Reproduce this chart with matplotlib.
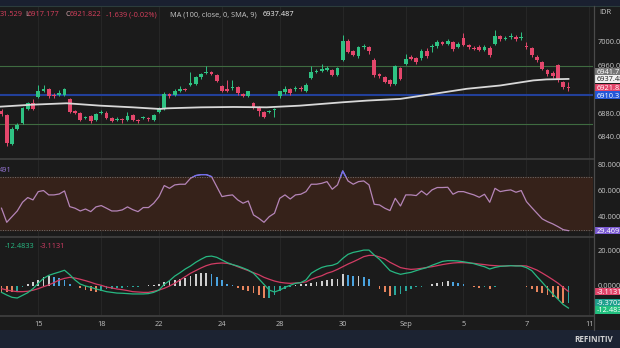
import matplotlib
matplotlib.use("Agg")
import matplotlib.pyplot as plt
from matplotlib.patches import Rectangle
from matplotlib.lines import Line2D

plt.rcParams['font.family'] = ['Open Sans', 'DejaVu Sans']

W, H = 620, 348
FS = 5.3

# ---- price candles (bar index 0..108) ----
opens = [6884, 6877.5, 6828, 6853, 6863, 6887, 6896.5, 6907, 6917, 6920,
         6911, 6911, 6911, 6903, 6883.5, 6880, 6872, 6875, 6868.5, 6880,
         6881, 6872, 6868, 6870, 6868, 6877, 6868, 6872, 6872, 6868.5,
         6882.5, 6888.5, 6912.5, 6911, 6918, 6920.3, 6928, 6929.5, 6940.5, 6948,
         6949, 6944.5, 6925, 6921, 6921.5, 6923.7, 6912.4, 6909.6, 6896.5, 6890,
         6882.5, 6882.5, 6886, 6908, 6915, 6921, 6920, 6922.5, 6918, 6939.5,
         6949, 6951.4, 6952, 6952, 6944.6, 6970, 7001.7, 6984, 6975.7, 6990.4,
         6990.4, 6970, 6946.3, 6940.7, 6935, 6929.4, 6956.5, 6963.3, 6974.6, 6972.3,
         6972.9, 6984.2, 6991, 6992.7, 7000, 6996, 7000, 6991.5, 7005.7, 6994.4,
         6989, 6991.5, 6985.9, 6990, 6996, 7009.6, 7005, 7007.9, 7008.5, 7005.7,
         6992.7, 6988.7, 6974.6, 6966.1, 6952, 6947.5, 6960.4, 6932.2, 6923.461]
highs = [6887, 6879, 6856, 6863, 6890, 6899, 6904, 6926.5, 6926.5, 6922,
         6914, 6919, 6922, 6906, 6886, 6882, 6876, 6877, 6880, 6886,
         6883, 6874, 6873, 6872, 6882, 6879, 6870, 6876, 6874, 6879,
         6890, 6915, 6914, 6920, 6926, 6923, 6949, 6943, 6948, 6958.8,
         6951, 6946, 6927, 6935, 6935, 6926, 6914, 6918, 6899, 6892,
         6884, 6886, 6889, 6918, 6925, 6923, 6926, 6925, 6930, 6958.8,
         6954, 6962, 6960, 6954, 6958, 7011, 7004, 6986, 6993, 6997,
         6992, 6972, 6948, 6942, 6937, 6961, 6958, 6980, 6977, 6974,
         6987, 6990, 6997, 7003, 7002, 7004, 7002, 6999, 7014, 6996,
         6992, 6994, 6994, 6992, 7019, 7012, 7009, 7015, 7011, 7017,
         7000, 6991, 6977, 6968, 6954, 6950, 6962, 6934, 6931.529]
lows = [6876, 6825, 6826, 6851, 6861, 6885, 6885, 6905, 6915, 6906,
        6906, 6909, 6909, 6880, 6879, 6867, 6870, 6864, 6866, 6878,
        6870, 6865, 6866, 6864, 6866, 6866, 6864, 6870, 6866, 6866,
        6880, 6886, 6906, 6909, 6916, 6917, 6926, 6927, 6938, 6946,
        6944, 6932, 6916, 6916, 6919, 6911, 6907, 6907, 6887, 6875,
        6872, 6880, 6874, 6906, 6913, 6911, 6918, 6917, 6916, 6937,
        6947, 6949, 6950, 6942, 6942, 6967, 6981, 6976, 6972, 6988,
        6980, 6941, 6939, 6930, 6925, 6927, 6935, 6961, 6969, 6963,
        6970, 6973, 6983, 6990, 6994, 6994, 6985, 6989, 6992, 6988,
        6986, 6984, 6984, 6975, 6994, 7002, 7003, 7005, 7002, 7003,
        6988, 6975, 6966, 6952, 6943, 6939, 6933, 6921, 6917.177]
closes = [6878.5, 6830.5, 6853, 6860, 6888, 6896.5, 6887, 6917, 6920, 6908.5,
          6908.5, 6913.5, 6920, 6882.5, 6881, 6869, 6874, 6867, 6878.5, 6882.5,
          6872, 6867, 6871, 6868, 6874.5, 6868.5, 6866, 6874, 6869.5, 6877,
          6888.5, 6912.5, 6908.5, 6918, 6920, 6919.2, 6930.5, 6940.5, 6946, 6949.7,
          6946.3, 6934, 6918, 6918, 6923.7, 6913.5, 6909.6, 6916.4, 6890, 6883,
          6874, 6884, 6887, 6916.4, 6921, 6913.5, 6922.6, 6919.8, 6926.5, 6949,
          6951.4, 6953.7, 6956.5, 6944.6, 6956.5, 7001.7, 6983, 6978.5, 6990.4, 6992.7,
          6984.2, 6943.5, 6941.8, 6932.2, 6928.2, 6958.8, 6937.9, 6971.2, 6971.2, 6965.5,
          6984.2, 6975.7, 6992, 7000, 6996, 7001.7, 6987, 6996, 6994.4, 6990.4,
          6988, 6985.9, 6991.5, 6977.4, 7010.2, 7004, 7006, 7009, 7004, 7008.5,
          6990.4, 6977.4, 6968.9, 6954.8, 6945.2, 6941.8, 6935, 6923.7, 6921.822]

# MA(100) read at sampled bars
ma_idx = [-0.3, 6, 12.4, 18.8, 25, 30.2, 31.5, 38, 44.2, 50.5,
          56.8, 65, 69.6, 76, 82.3, 88.6, 95, 101.3, 103.8, 108]
ma_val = [6890.9, 6894.3, 6896.6, 6892.6, 6889.8, 6887, 6888.1, 6889.8, 6890.4, 6889.8,
          6892.6, 6898.3, 6901.1, 6904, 6912.4, 6920.9, 6926.5, 6935, 6936.7, 6937.487]

rsi = [46.5, 35.8, 40.1, 44.4, 51.0, 54.6, 52.8, 59.1, 59.9, 56.6,
       56.6, 57.3, 59.6, 47.7, 46.5, 44.4, 45.9, 43.9, 47.5, 48.5,
       46.5, 44.4, 44.4, 45.2, 47.5, 45.4, 43.9, 47.0, 47.0, 50.3,
       55.3, 63.7, 61.6, 64.2, 64.7, 64.7, 69.2, 71.3, 72.0, 72.0,
       70.5, 62.9, 55.3, 56.1, 56.6, 52.8, 50.3, 52.0, 41.4, 38.9,
       35.8, 40.1, 42.7, 54.0, 56.6, 53.5, 56.6, 57.1, 59.1, 64.7,
       64.7, 65.4, 66.7, 60.9, 64.2, 74.8, 67.2, 64.7, 66.7, 67.2,
       64.2, 49.5, 49.0, 46.5, 44.7, 54.0, 48.2, 56.6, 56.6, 56.1,
       59.6, 56.6, 60.4, 62.2, 62.2, 62.4, 57.1, 59.1, 59.1, 57.8,
       56.6, 54.8, 57.1, 51.0, 61.6, 59.1, 59.9, 60.4, 58.6, 59.9,
       51.5, 47.0, 42.7, 38.4, 36.3, 34.6, 32.5, 30.2, 29.469]

macd = [-3.6, -5.1, -6.4, -6.8, -5.3, -3.8, -1.5, 1.5, 4.3, 6.0,
        7.0, 7.9, 8.9, 6.4, 3.4, 1.1, 0.0, -0.75, -1.7, -2.4,
        -3.2, -3.6, -4.0, -4.1, -4.3, -4.5, -4.5, -4.5, -4.3, -3.6,
        -2.3, 0.9, 3.0, 5.6, 7.5, 9.6, 11.3, 13.4, 15.1, 16.6,
        16.9, 16.2, 14.7, 13.2, 12.1, 11.3, 10.2, 9.0, 7.2, 4.1,
        0.9, -2.3, -3.4, -2.3, -0.75, 0.4, 1.5, 1.9, 3.4, 7.2,
        9.0, 10.5, 11.3, 11.7, 12.8, 15.6, 17.9, 19.0, 19.6, 20.3,
        20.3, 17.5, 15.1, 11.9, 8.7, 7.5, 6.6, 7.2, 7.7, 8.7,
        9.6, 10.4, 11.7, 12.8, 13.9, 14.3, 14.3, 14.1, 13.7, 13.2,
        12.6, 11.7, 10.9, 9.6, 10.5, 11.1, 11.3, 11.5, 11.3, 11.3,
        10.4, 8.7, 5.3, 2.1, -1.3, -4.5, -7.5, -10.5, -12.4833]
signal = [-1.5, -2.3, -2.8, -3.2, -3.2, -3.0, -2.4, -1.5, -0.4, 0.6,
          1.9, 3.4, 4.3, 4.9, 4.5, 3.8, 3.0, 2.1, 1.1, 0.4,
          -0.6, -1.1, -1.7, -2.1, -2.6, -3.2, -3.4, -3.6, -3.6, -3.0,
          -2.3, -1.3, 0.0, 1.5, 3.4, 5.3, 7.2, 8.7, 10.2, 11.5,
          12.4, 12.8, 13.0, 12.8, 12.1, 10.9, 9.8, 8.7, 7.5, 6.4,
          4.9, 3.8, 2.8, 2.1, 1.7, 1.5, 1.7, 1.9, 2.3, 3.8,
          4.9, 5.8, 7.2, 8.1, 9.4, 10.9, 12.4, 13.7, 15.1, 16.6,
          17.3, 17.3, 16.4, 15.3, 13.4, 11.9, 10.4, 9.8, 9.4, 9.6,
          10.0, 10.5, 10.9, 11.5, 12.1, 12.6, 13.0, 13.2, 13.2, 13.0,
          12.8, 12.4, 12.1, 11.7, 11.5, 11.3, 11.3, 11.5, 11.5, 11.5,
          11.3, 10.2, 9.0, 7.3, 5.5, 3.6, 1.6, -0.8, -3.1131]
hist = [-3.2, -3.2, -3.6, -3.0, -0.75, 0.9, 2.3, 3.6, 4.9, 5.6,
        5.3, 4.3, 3.4, 0.9, -0.2, -1.3, -2.3, -3.0, -3.2, -2.6,
        -1.9, -1.5, -1.1, -0.9, -0.75, -0.6, -0.4, 0.2, 0.4, 0.75,
        1.3, 2.3, 3.0, 3.6, 4.1, 4.7, 5.6, 6.6, 7.3, 7.5,
        6.8, 5.3, 3.4, 1.1, 0.4, -1.1, -2.1, -2.8, -4.0, -5.1,
        -6.8, -6.6, -4.9, -3.0, -1.5, -0.4, 0.6, 0.9, 1.1, 1.9,
        2.4, 3.0, 3.6, 3.8, 4.1, 6.8, 6.2, 5.6, 5.6, 5.3,
        3.8, 0.0, -1.9, -3.4, -5.6, -5.1, -4.5, -2.6, -1.5, -0.75,
        -0.4, -0.2, 0.9, 1.9, 2.4, 2.6, 2.1, 1.5, 0.9, 0.2,
        -0.75, -1.1, -0.75, -1.9, -0.75, -0.2, 0.1, 0.2, 0.0, 0.2,
        -0.75, -1.9, -3.2, -4.1, -5.3, -6.4, -7.5, -9.6, -9.3702]

tick_idx = [7, 19, 30, 42, 53, 65, 77, 88, 100, 112]
tick_lab = ['15', '18', '22', '24', '28', '30', 'Sep', '5', '7', '11']
price_ticks = [6840, 6880, 6960, 7000]   # 6920 sits under the close tag

BG = '#1b1b1b'
GREEN = '#2fc283'
RED = '#e4476c'
idx = list(range(len(closes)))

fig = plt.figure(figsize=(W / 100, H / 100), dpi=100, facecolor=BG)


def axes_px(top, bottom):
    return fig.add_axes([0, 1 - bottom / H, 593 / W, (bottom - top) / H], facecolor=BG)


ax1 = axes_px(6, 159)
ax2 = axes_px(160, 236)
ax3 = axes_px(237, 315)

for ax in (ax1, ax2, ax3):
    ax.set_xlim(-0.286, 112.67)
    for s in ax.spines.values():
        s.set_visible(False)
    for t in tick_idx:
        ax.axvline(t, color='#262626', lw=0.8, zorder=0)
    ax.yaxis.tick_right()
    ax.tick_params(axis='y', length=0, pad=3.2, labelsize=FS, labelcolor='#c8c8c8')
    ax.tick_params(axis='x', length=0)
    ax.set_xticks(tick_idx)
    ax.set_xticklabels([])

# ---- main price panel ----
ax1.set_ylim(6803, 7060)
ax1.set_yticks(price_ticks)
ax1.set_yticklabels(['%.3f' % v for v in price_ticks])
ax1.axhline(6960, color='#3f6b40', lw=0.8, zorder=1)
ax1.axhline(6862, color='#3f6b40', lw=0.8, zorder=1)
ax1.axhline(6910.3, color='#22409a', lw=1.5, zorder=1)

cols = [GREEN if c >= o else RED for o, c in zip(opens, closes)]
ax1.vlines(idx, lows, highs, colors=cols, lw=0.7, zorder=3)
ax1.bar(idx, [max(abs(c - o), 1.0) for o, c in zip(opens, closes)],
        bottom=[min(o, c) for o, c in zip(opens, closes)],
        width=0.7, color=cols, zorder=4)
ax1.plot(ma_idx, ma_val, color='#d8d8d8', lw=1.3, zorder=5)

# ---- RSI panel ----
ax2.set_ylim(25.4, 83.1)
ax2.set_yticks([40, 60, 80])
ax2.set_yticklabels(['40.000', '60.000', '80.000'])
ax2.axhspan(30, 70, color='#36221a', zorder=1)
ax2.axhline(70, color='#707070', lw=0.7, ls=(0, (1, 1.5)), zorder=2)
ax2.axhline(30, color='#707070', lw=0.7, ls=(0, (1, 1.5)), zorder=2)
ax2.plot(idx, rsi, color='#b585b8', lw=0.9, zorder=3)
over, = ax2.plot(idx, rsi, color='#6f6ff0', lw=0.9, zorder=4)
over.set_clip_path(Rectangle((-5, 70), 200, 50, transform=ax2.transData))

# ---- MACD panel ----
ax3.set_ylim(-16.4, 27.7)
ax3.set_yticks([0, 20])
ax3.set_yticklabels(['0.0000', '20.000'])
hcols = []
for k, v in enumerate(hist):
    prev = hist[k - 1] if k else v
    if v >= 0:
        hcols.append('#cfcfcf' if v >= prev else '#4aa3df')
    else:
        hcols.append('#e8855e' if v <= prev else '#2aa79b')
ax3.bar(idx, hist, width=0.3, color=hcols, zorder=2)
ax3.plot(idx, signal, color='#d23c64', lw=0.9, zorder=3)
ax3.plot(idx, macd, color='#27b882', lw=0.9, zorder=4)
ax3.set_xticklabels(tick_lab)
ax3.tick_params(axis='x', pad=4, labelsize=FS, labelcolor='#c0c0c0')

# ---- frame pieces ----
fig.add_artist(Rectangle((0, 1 - 5.5 / H), 1, 5.5 / H, transform=fig.transFigure,
                         fc='#1a2030', ec='none'))
fig.add_artist(Line2D([0, 1], [1 - 5.8 / H] * 2, color='#2c3c3c', lw=0.8))
fig.add_artist(Rectangle((0, 0), 1, 18 / H, transform=fig.transFigure,
                         fc='#1c2332', ec='none'))
for yy in (159.5, 236.5, 315.5):
    fig.add_artist(Line2D([0, 593 / W], [1 - yy / H] * 2, color='#3e3e3e', lw=1.3))
fig.add_artist(Line2D([593.5 / W] * 2, [1 - 330 / H, 1 - 6 / H], color='#4a4a4a', lw=0.9))
fig.text(574 / W, 1 - 340 / H, 'REFINITIV', color='#d0d0d0', fontsize=5.8,
         fontweight='bold', va='center', ha='left')
fig.text(599 / W, 1 - 13 / H, 'IDR', color='#c8c8c8', fontsize=FS, va='center')


def txt(x, y, s, c, **kw):
    fig.text(x / W, 1 - y / H, s, color=c, fontsize=FS, va='center_baseline', ha='left', **kw)


txt(0, 14, '31.529', '#d9405e')
txt(25, 14, 'L', '#d8a8b0')
txt(28, 14, '6917.177', '#d9405e')
txt(66, 14, 'C', '#d8a8b0')
txt(69.5, 14, '6921.822', '#d9405e')
txt(106, 14, '-1.639 (-0.02%)', '#d9405e')
txt(170, 14, 'MA (100, close, 0, SMA, 9)', '#c8c8c8')
txt(263, 14, '6937.487', '#f2f2f2')
txt(-1, 169, '491', '#9a78d8')
txt(5, 246, '-12.4833', '#27b882')
txt(40, 246, '-3.1131', '#d23c64')


def tags(ax, items, up):
    # value tags on the right axis, stacked so they do not overlap
    h = 7.4
    prev = None
    for val, s, fc, tc in items:
        y = ax.transData.transform((0, val))[1]
        if prev is not None:
            y = max(y, prev + h) if up else min(y, prev - h)
        prev = y
        fig.add_artist(Rectangle((593.8 / W, (y - h / 2) / H), 27 / W, h / H,
                                 transform=fig.transFigure, fc=fc, ec='none'))
        fig.text(597 / W, y / H, s, color=tc, fontsize=FS, va='center_baseline', ha='left')


tags(ax1, [(6910.3, '6910.3', '#2457d8', 'white'),
           (6921.822, '6921.822', '#e2456a', 'white'),
           (6937.487, '6937.487', '#f0f0f0', '#202020'),
           (6941.7, '6941.7', '#777777', 'white')], up=True)
tags(ax2, [(29.469, '29.4691', '#7b5bd2', 'white')], up=False)
tags(ax3, [(-3.1131, '-3.1131', '#e2456a', 'white'),
           (-9.3702, '-9.3702', '#1fa08e', 'white'),
           (-12.4833, '-12.4833', '#22c07f', 'white')], up=False)

fig.savefig('out.png', dpi=100, facecolor=BG)
